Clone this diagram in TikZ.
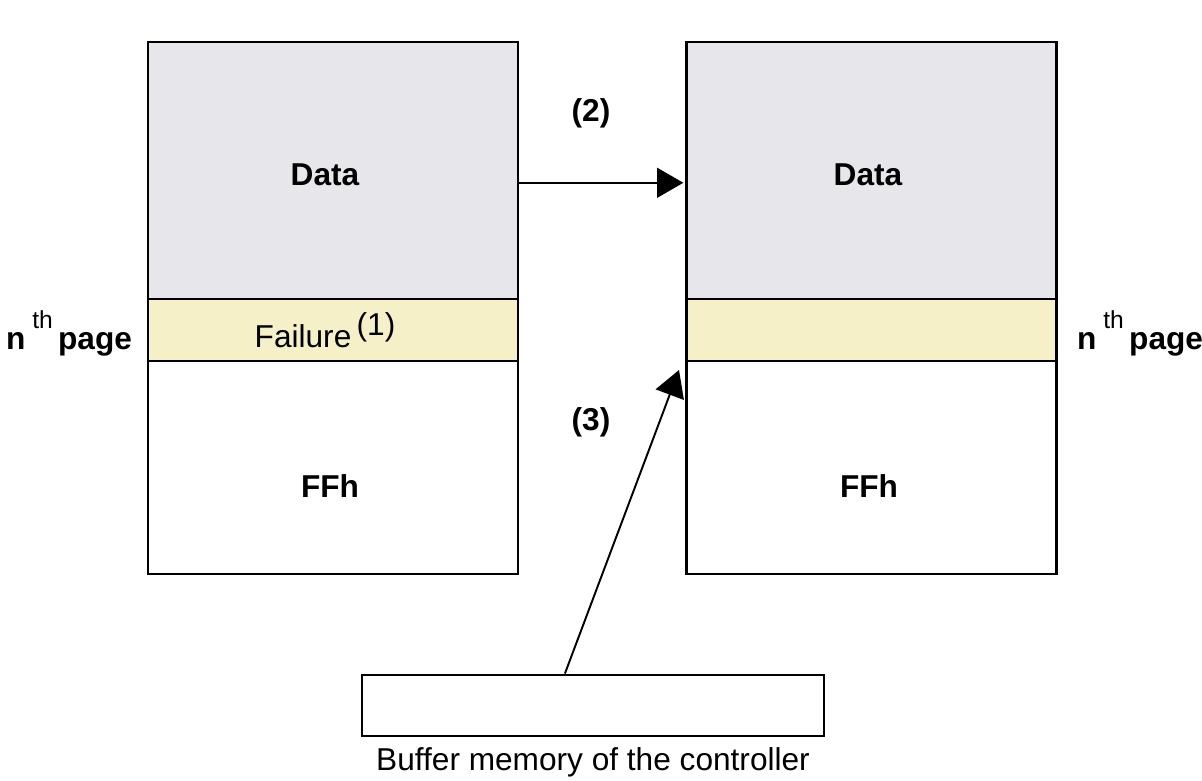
\documentclass[tikz,border=0pt]{standalone}
\usepackage{fontspec}
\setmainfont{Liberation Sans}
\usepackage{xcolor}
\usepackage{tikz}
\usetikzlibrary{arrows.meta, positioning, calc}

\definecolor{datagray}{RGB}{230,230,235}
\definecolor{failyellow}{RGB}{245,240,200}

\newcommand{\nthpage}{n\hspace{4pt}\raisebox{1.25ex}{\mdseries\fontsize{14}{14}\selectfont th}\hspace{3pt}page}

\begin{document}
\begin{tikzpicture}[x=0.02cm, y=-0.02cm,
    block/.style={rectangle, draw, line width=1.6pt, minimum width=7.4cm, inner sep=0pt},
    buf/.style={rectangle, draw, line width=1.6pt, minimum width=9.24cm, minimum height=1.22cm},
    lbl/.style={font=\fontsize{18}{20}\selectfont\bfseries},
    txt/.style={font=\fontsize{18}{20}\selectfont},
    arrow/.style={-{Triangle[length=15pt, width=17pt]}, line width=1.1pt}
]
    \useasboundingbox (0,0) rectangle (1202,780);

    % left page
    \node[block, fill=datagray, minimum height=5.14cm] (ldata) at (333,170.5) {};
    \node[block, fill=failyellow, minimum height=1.24cm] (lfail) at (333,330) {};
    \node[block, fill=white, minimum height=4.26cm] (lffh) at (333,467.5) {};
    \node[lbl] (ldatatxt) at (325,174.5) {Data};
    \node[txt] (lfailtxt) at (325,330) {Failure\,\raisebox{0.7ex}{(1)}};
    \node[lbl] (lffhtxt) at (330,486) {FFh};

    % right page
    \node[block, fill=datagray, minimum height=5.14cm] (rdata) at (871.5,170.5) {};
    \node[block, fill=failyellow, minimum height=1.24cm] (rfail) at (871.5,330) {};
    \node[block, fill=white, minimum height=4.26cm] (rffh) at (871.5,467.5) {};
    \node[lbl] (rdatatxt) at (868,174.5) {Data};
    \node[lbl] (rffhtxt) at (869,486) {FFh};

    \node[lbl] (lpage) at (69,333) {\nthpage};
    \node[lbl] (rpage) at (1140,333) {\nthpage};

    % buffer
    \node[buf] (buffer) at (593,705.5) {};
    \node[txt, below=2pt of buffer] (buflabel) {Buffer memory of the controller};

    \coordinate (tipthree) at (679,370);

    \draw[arrow] ([yshift=-7pt]ldata.east) -- ([yshift=-7pt, xshift=-1pt]rdata.west);
    \draw[arrow] ([xshift=-16pt]buffer.north) -- (tipthree);
    \node[lbl] (two) at (591,113) {(2)};
    \node[lbl] (three) at (591,422) {(3)};
\end{tikzpicture}
\end{document}
